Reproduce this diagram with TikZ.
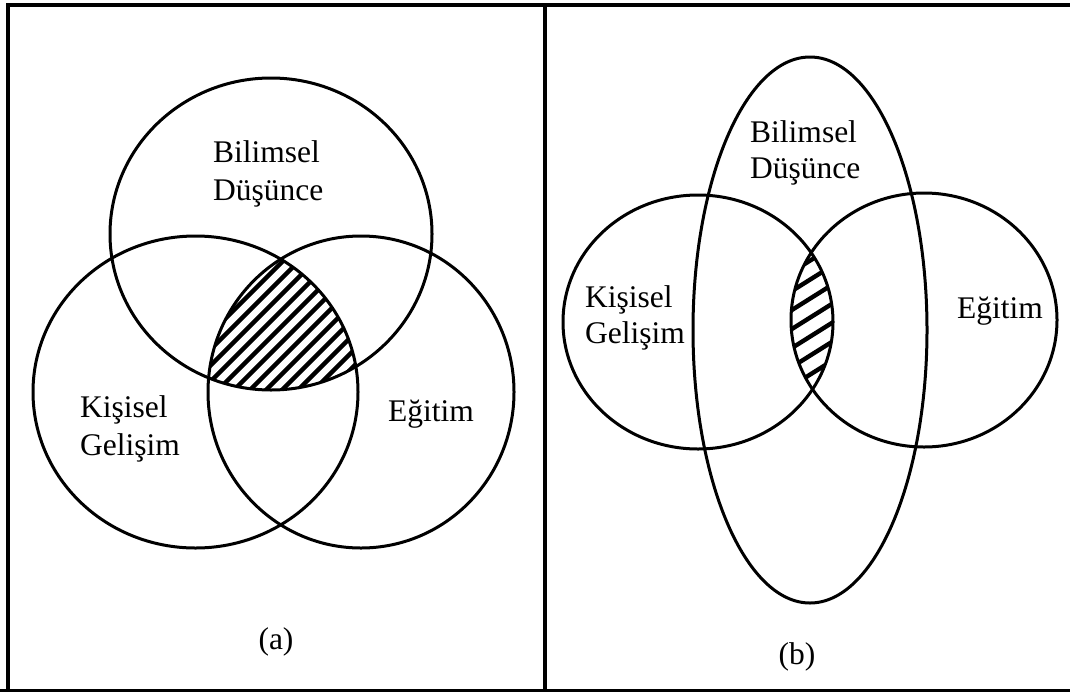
\documentclass[tikz,border=0pt]{standalone}
\usepackage{fontspec}
\setmainfont{Liberation Serif}
\begin{document}
\begin{tikzpicture}[x=1pt,y=-1pt,
  set/.style={draw=black,line width=3pt},
  frame/.style={line width=3.5pt,line join=miter},
  lbl/.style={font=\fontsize{31.5}{38}\selectfont,inner sep=0pt,align=left,anchor=base west},
  captxt/.style={font=\fontsize{31.5}{38}\selectfont,inner sep=0pt,anchor=base},
  hatch/.style={line width=4.4pt}]
\useasboundingbox (0,0) rectangle (1070,691);

% outer frame and divider
\draw[frame] (8,691) -- (8,5) -- (1070,5);
\draw[frame] (545,5) -- (545,691);
\draw[line width=5pt] (0,691.5) -- (1070,691.5);

% ---------- panel (a): three overlapping sets ----------
\begin{scope}
  \clip (271,234) ellipse [x radius=161,y radius=156];
  \clip (195.5,392) ellipse [x radius=162.5,y radius=156];
  \clip (361,392) ellipse [x radius=153,y radius=156];
  \foreach \k in {0,...,25}
    \draw[hatch] (-20+\k*16,420) -- (230+\k*16,170);
\end{scope}
\draw[set] (271,234) ellipse [x radius=161,y radius=156];
\draw[set] (195.5,392) ellipse [x radius=162.5,y radius=156];
\draw[set] (361,392) ellipse [x radius=153,y radius=156];

% multi-line labels are anchored at the baseline of their last line
\node[lbl] (a-bd) at (213,200) {Bilimsel\\Düşünce};
\node[lbl] (a-kg) at (80,455) {Kişisel\\Gelişim};
\node[lbl] (a-eg) at (388,421) {Eğitim};
\node[captxt] (cap-a) at (276,649) {(a)};

% ---------- panel (b): tall ellipse across two sets ----------
\begin{scope}
  \clip (698,322) ellipse [x radius=135,y radius=127];
  \clip (924,320) ellipse [x radius=133,y radius=127];
  \foreach \k in {0,...,14}
    \draw[hatch] (760,235+\k*19) -- (870,166+\k*19);
\end{scope}
\draw[set] (698,322) ellipse [x radius=135,y radius=127];
\draw[set] (924,320) ellipse [x radius=133,y radius=127];
\draw[set] (810,330) ellipse [x radius=117,y radius=273];

\node[lbl,font=\fontsize{31.5}{36}\selectfont] (b-bd) at (750,178) {Bilimsel\\Düşünce};
\node[lbl,font=\fontsize{31.5}{36}\selectfont] (b-kg) at (585,343) {Kişisel\\Gelişim};
\node[lbl] (b-eg) at (957,318) {Eğitim};
\node[captxt] (cap-b) at (797,664) {(b)};
\end{tikzpicture}
\end{document}
